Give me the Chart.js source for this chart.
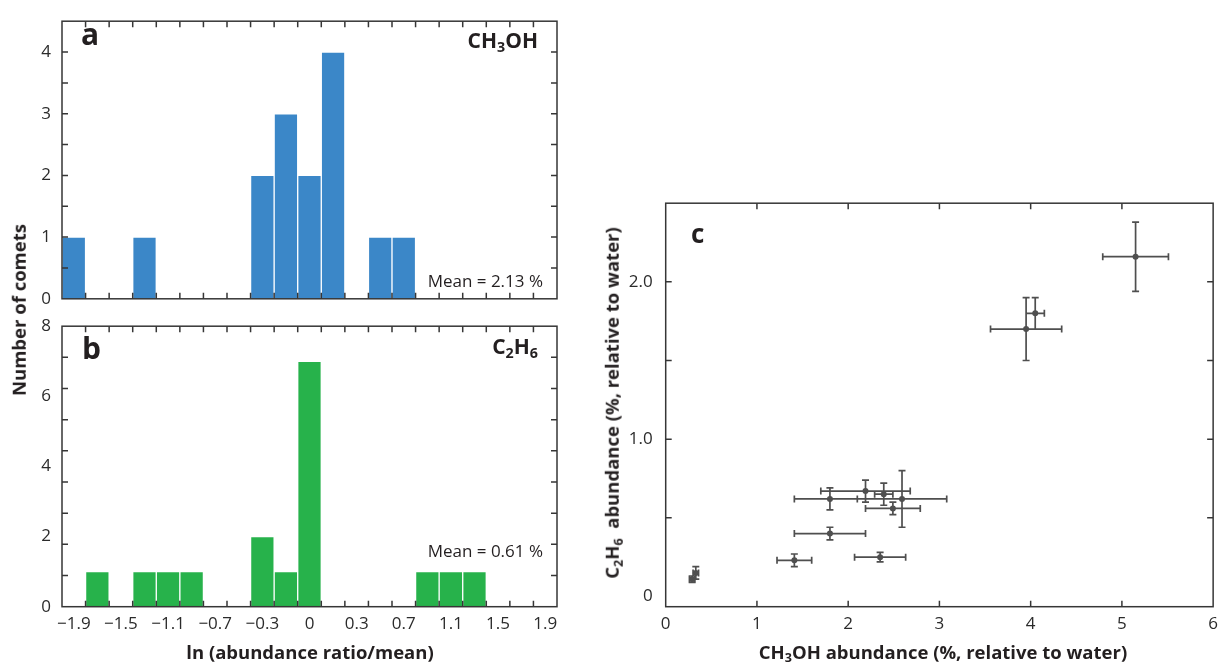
<!DOCTYPE html>
<html>
<head>
<meta charset="utf-8">
<title>Comet abundances</title>
<script src="https://cdn.jsdelivr.net/npm/chart.js@4.4.1/dist/chart.umd.min.js"></script>
<style>
    html, body { margin: 0; padding: 0; background: #fff; }
    body { width: 1225px; height: 663px; position: relative; overflow: hidden; font-family: "Open Sans", sans-serif; color: #231f20; }
    .box { position: absolute; }
    .lbl { position: absolute; line-height: 1; white-space: nowrap; }
    .lbl sub, .mid sub { font-size: 0.68em; vertical-align: -0.28em; line-height: 0; }
    .mid { position: absolute; line-height: 1; white-space: nowrap; font-size: 18.5px; font-weight: 700; transform: translate(-50%, -50%); }
    .mid.rot { transform: translate(-50%, -50%) rotate(-90deg); }
</style>
</head>
<body>

<div class="box" style="left:0; top:0;"><canvas id="chartA" width="580" height="320"></canvas></div>
<div class="box" style="left:0; top:305px;"><canvas id="chartB" width="580" height="358"></canvas></div>
<div class="box" style="left:580px; top:180px;"><canvas id="chartC" width="645" height="483"></canvas></div>

<!-- panel labels -->
<div class="lbl" style="left:81px; top:19px; font-size:30px; font-weight:700;">a</div>
<div class="lbl" style="right:687px; top:30px; font-size:21px; font-weight:700;">CH<sub>3</sub>OH</div>
<div class="lbl" style="right:682px; top:272px; font-size:17px;">Mean = 2.13 %</div>

<div class="lbl" style="left:82px; top:333px; font-size:30px; font-weight:700;">b</div>
<div class="lbl" style="right:687px; top:336px; font-size:21px; font-weight:700;">C<sub>2</sub>H<sub>6</sub></div>
<div class="lbl" style="right:682px; top:542px; font-size:17px;">Mean = 0.61 %</div>

<div class="lbl" style="left:691px; top:220px; font-size:26px; font-weight:700;">c</div>

<!-- axis titles -->
<div class="mid rot" style="left:19px; top:310px;">Number of comets</div>
<div class="mid" style="left:310px; top:652px;">ln (abundance ratio/mean)</div>
<div class="mid rot" style="left:612px; top:403px;">C<sub>2</sub>H<sub>6</sub>&nbsp; abundance (%, relative to water)</div>
<div class="mid" style="left:943px; top:652px;">CH<sub>3</sub>OH abundance (%, relative to water)</div>

<script>
// --- histogram bins (width 0.2 in ln ratio), labelled every other bin ---
const binLabels = ['−1.9', '', '−1.5', '', '−1.1', '', '−0.7', '', '−0.3', '', '0', '', '0.3', '', '0.7', '', '1.1', '', '1.5', '', '1.9'];
const ch3ohCounts = [1, 0, 0, 1, 0, 0, 0, 0, 2, 3, 2, 4, 0, 1, 1, 0, 0, 0, 0, 0, 0];
const c2h6Counts  = [0, 1, 0, 1, 1, 1, 0, 0, 2, 1, 7, 0, 0, 0, 0, 1, 1, 1, 0, 0, 0];
const countTicksA = [0, 1, 2, 3, 4];
const countTicksB = [0, 2, 4, 6, 8];

// --- per-comet abundances (% relative to water) with 1-sigma errors ---
const ch3ohAbund = [0.29, 0.33, 1.41, 1.80, 1.80, 2.19, 2.35, 2.39, 2.49, 2.59, 3.95, 4.05, 5.15];
const c2h6Abund  = [0.11, 0.15, 0.23, 0.40, 0.62, 0.67, 0.25, 0.65, 0.56, 0.62, 1.70, 1.80, 2.16];
const ch3ohErr   = [0.03, 0.03, 0.19, 0.39, 0.39, 0.49, 0.28, 0.10, 0.30, 0.49, 0.39, 0.10, 0.36];
const c2h6Err    = [0.02, 0.04, 0.04, 0.04, 0.07, 0.07, 0.03, 0.07, 0.04, 0.18, 0.20, 0.10, 0.22];
const ch3ohTicks = [0, 1, 2, 3, 4, 5, 6];
const c2h6Ticks  = [0, 1, 2];

const INK = '#2b2b2b';
const tickFont = { family: 'Open Sans', size: 17 };

// closed box with short inward tick marks on all four sides
const framePlugin = {
    id: 'frame',
    afterDraw(chart, args, opts) {
        const { ctx, chartArea: a, scales } = chart;
        const len = opts.len || 6;
        ctx.save();
        ctx.strokeStyle = opts.color || '#363636';
        ctx.lineWidth = opts.width || 1.5;
        ctx.beginPath();
        (opts.xMarks || []).forEach(v => {
            const px = scales.x.getPixelForValue(v);
            ctx.moveTo(px, a.top); ctx.lineTo(px, a.top + len);
            ctx.moveTo(px, a.bottom); ctx.lineTo(px, a.bottom - len);
        });
        (opts.yMarks || []).forEach(v => {
            const py = scales.y.getPixelForValue(v);
            ctx.moveTo(a.left, py); ctx.lineTo(a.left + len, py);
            ctx.moveTo(a.right, py); ctx.lineTo(a.right - len, py);
        });
        ctx.stroke();
        ctx.strokeRect(a.left, a.top, a.right - a.left, a.bottom - a.top);
        ctx.restore();
    }
};

// x and y error bars with end caps, drawn under the points
const errorBarPlugin = {
    id: 'errorBars',
    beforeDatasetsDraw(chart, args, opts) {
        const { ctx, scales: { x, y } } = chart;
        const cap = opts.cap || 3.5;
        ctx.save();
        ctx.strokeStyle = opts.color;
        ctx.lineWidth = opts.width;
        ctx.beginPath();
        chart.data.datasets[0].data.forEach(p => {
            const px = x.getPixelForValue(p.x), py = y.getPixelForValue(p.y);
            const x0 = x.getPixelForValue(p.x - p.xErr), x1 = x.getPixelForValue(p.x + p.xErr);
            const y0 = y.getPixelForValue(p.y - p.yErr), y1 = y.getPixelForValue(p.y + p.yErr);
            ctx.moveTo(x0, py); ctx.lineTo(x1, py);
            ctx.moveTo(x0, py - cap); ctx.lineTo(x0, py + cap);
            ctx.moveTo(x1, py - cap); ctx.lineTo(x1, py + cap);
            ctx.moveTo(px, y0); ctx.lineTo(px, y1);
            ctx.moveTo(px - cap, y0); ctx.lineTo(px + cap, y0);
            ctx.moveTo(px - cap, y1); ctx.lineTo(px + cap, y1);
        });
        ctx.stroke();
        ctx.restore();
    }
};

Chart.register(framePlugin, errorBarPlugin);

// inward tick marks sit on bin edges
const binEdges = binLabels.slice(1).map((_, i) => i + 0.5);

function histogram(canvasId, counts, color, edge, yMax, yTicks, yMarks, showX, pad, xHeight) {
    return new Chart(document.getElementById(canvasId), {
        type: 'bar',
        data: {
            labels: binLabels,
            datasets: [{
                data: counts,
                backgroundColor: color,
                borderColor: edge,
                borderWidth: 1,
                barPercentage: 1,
                categoryPercentage: 1
            }]
        },
        options: {
            responsive: false,
            animation: false,
            devicePixelRatio: 1,
            events: [],
            layout: { padding: pad },
            plugins: {
                legend: { display: false },
                tooltip: { enabled: false },
                frame: { xMarks: binEdges, yMarks: yMarks }
            },
            scales: {
                x: {
                    grid: { display: false, drawTicks: false },
                    border: { display: false },
                    ticks: {
                        display: showX,
                        autoSkip: false,
                        maxRotation: 0,
                        padding: 7,
                        color: INK,
                        font: tickFont
                    },
                    afterFit: s => { s.height = xHeight; }
                },
                y: {
                    min: 0,
                    max: yMax,
                    grid: { display: false, drawTicks: false },
                    border: { display: false },
                    afterBuildTicks: s => { s.ticks = yTicks.map(v => ({ value: v })); },
                    ticks: { padding: 11, color: INK, font: tickFont },
                    afterFit: s => { s.width = 62; }
                }
            }
        }
    });
}

// a: CH3OH, b: C2H6
histogram('chartA', ch3ohCounts, '#3b87c8', 'rgba(255,255,255,0.75)', 4.5, countTicksA,
    [0.5, 1, 1.5, 2, 2.5, 3, 3.5, 4], false,
    { top: 10, right: 23, bottom: 18, left: 0 }, 0);

histogram('chartB', c2h6Counts, '#27b24b', 'rgba(255,255,255,0.75)', 8, countTicksB,
    Array.from({ length: 8 }, (_, k) => (k + 1) * 8 / 9), true,
    { top: 9.3, right: 23, bottom: 0, left: 0 }, 56.3);

// c: C2H6 vs CH3OH
new Chart(document.getElementById('chartC'), {
    type: 'scatter',
    data: {
        datasets: [{
            data: ch3ohAbund.map((v, i) => ({ x: v, y: c2h6Abund[i], xErr: ch3ohErr[i], yErr: c2h6Err[i] })),
            pointRadius: 3,
            pointBackgroundColor: '#4f4f4f',
            pointBorderWidth: 0
        }]
    },
    options: {
        responsive: false,
        animation: false,
        devicePixelRatio: 1,
        events: [],
        layout: { padding: { top: 21.7, right: 4, bottom: 0, left: 0 } },
        plugins: {
            legend: { display: false },
            tooltip: { enabled: false },
            frame: { xMarks: [1, 2, 3, 4, 5], yMarks: [0.5, 1, 1.5, 2] },
            errorBars: { color: '#4f4f4f', width: 1.7, cap: 3.5 }
        },
        scales: {
            x: {
                type: 'linear',
                min: 0,
                max: 6,
                grid: { display: false, drawTicks: false },
                border: { display: false },
                afterBuildTicks: s => { s.ticks = ch3ohTicks.map(v => ({ value: v })); },
                ticks: { padding: 7, color: INK, font: tickFont, maxRotation: 0 },
                afterFit: s => { s.height = 56.3; }
            },
            y: {
                min: -0.065,
                max: 2.5,
                grid: { display: false, drawTicks: false },
                border: { display: false },
                afterBuildTicks: s => { s.ticks = c2h6Ticks.map(v => ({ value: v })); },
                ticks: {
                    padding: 13,
                    color: INK,
                    font: tickFont,
                    callback: v => (v === 0 ? '0' : v.toFixed(1))
                },
                afterFit: s => { s.width = 85.7; }
            }
        }
    }
});
</script>
</body>
</html>
